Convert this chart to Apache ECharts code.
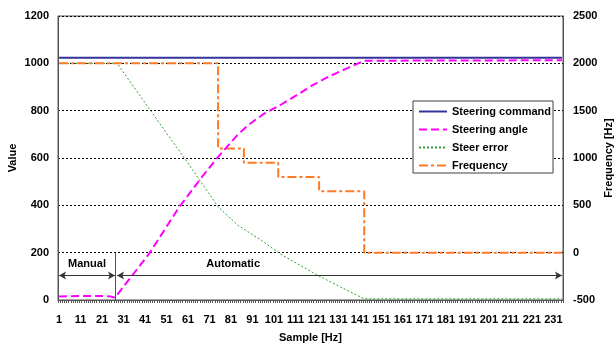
<!DOCTYPE html>
<html>
<head>
<meta charset="utf-8">
<script src="https://cdn.jsdelivr.net/npm/echarts@6/dist/echarts.min.js"></script>
<style>html,body{margin:0;padding:0;background:#fff}#c{width:614px;height:347px}</style>
</head>
<body>
<div id="c"></div>
<script>
// Sample numbers 1..235 (category axis)
const sampleCount = 235;
const categories = Array.from({length: sampleCount}, (_, k) => String(k + 1));

// Steering command (constant)
const cmdSamples = [1, 235];
const cmdValues  = [1024, 1024];

// Steering angle
const angleSamples = [1, 10, 20, 25, 27, 43, 57, 67, 74, 84, 89, 96, 104, 112, 119, 127, 135, 143, 235];
const angleValues  = [15, 17, 17, 15, 10, 197, 394, 514, 594, 697, 739, 785, 824, 868, 908, 946, 979, 1011, 1013];

// Steer error
const errSamples = [1, 28, 44, 60, 75, 84, 95, 104, 121, 132, 143, 235];
const errValues  = [1000, 1000, 795, 591, 394, 317, 253, 194, 106, 55, 5, 5];

// Frequency (right axis), step levels
const freqSamples = [1, 75, 75, 87, 87, 103, 103, 122, 122, 143, 143, 235];
const freqValues  = [2000, 2000, 1100, 1100, 950, 950, 800, 800, 650, 650, 0, 0];

const pairs = (xs, ys) => xs.map((x, k) => [String(x), ys[k]]);

const font = {fontFamily: 'Liberation Sans, Arial, sans-serif', fontWeight: 'bold', fontSize: 11, color: '#000'};
const axisCol = '#555';
const plain = v => String(v);

const chart = echarts.init(document.getElementById('c'), null, {renderer: 'canvas'});
chart.setOption({
  animation: false,
  backgroundColor: '#fff',
  grid: {left: 58, right: 51, top: 16, bottom: 47, containLabel: false, outerBoundsMode: 'none',
         show: true, borderColor: axisCol, borderWidth: 1, backgroundColor: 'transparent'},
  legend: {
    orient: 'vertical', left: 413, top: 101,
    itemWidth: 28, itemHeight: 10, itemGap: 7,
    padding: [5, 2, 2, 5],
    backgroundColor: '#fff', borderColor: '#404040', borderWidth: 1, borderRadius: 0,
    itemStyle: {opacity: 0},
    textStyle: Object.assign({}, font),
    data: ['Steering command', 'Steering angle', 'Steer error', 'Frequency']
  },
  xAxis: {
    type: 'category', data: categories, boundaryGap: true,
    name: 'Sample [Hz]', nameLocation: 'middle', nameGap: 32, nameMoveOverlap: false,
    nameTextStyle: Object.assign({}, font),
    axisLine: {show: true, onZero: false, lineStyle: {color: axisCol, width: 1}},
    axisTick: {show: true, interval: 0, length: 3, lineStyle: {color: axisCol}},
    axisLabel: Object.assign({interval: 9, margin: 14}, font),
    splitLine: {show: false}
  },
  yAxis: [{
    type: 'value', min: 0, max: 1200, interval: 200,
    name: 'Value', nameLocation: 'middle', nameGap: 40, nameMoveOverlap: false,
    nameTextStyle: Object.assign({}, font),
    axisLine: {show: true, lineStyle: {color: axisCol}},
    axisTick: {show: false},
    axisLabel: Object.assign({margin: 9, formatter: plain}, font),
    splitLine: {show: true, lineStyle: {color: '#000', type: [2, 2], width: 1}}
  }, {
    type: 'value', min: -500, max: 2500, interval: 500, position: 'right',
    name: 'Frequency [Hz]', nameLocation: 'middle', nameGap: 40, nameMoveOverlap: false,
    nameTextStyle: Object.assign({}, font),
    axisLine: {show: true, lineStyle: {color: axisCol}},
    axisTick: {show: false},
    axisLabel: Object.assign({margin: 10, formatter: plain}, font),
    splitLine: {show: false}
  }],
  series: [{
    name: 'Steer error', type: 'line', yAxisIndex: 0, symbol: 'none', z: 2,
    data: pairs(errSamples, errValues),
    lineStyle: {color: '#33A033', width: 1, type: [2, 2]}, itemStyle: {color: '#33A033'}
  }, {
    name: 'Frequency', type: 'line', yAxisIndex: 1, symbol: 'none', z: 3,
    data: pairs(freqSamples, freqValues),
    lineStyle: {color: '#FF7A22', width: 2, type: [9, 3, 3, 3]}, itemStyle: {color: '#FF7A22'}
  }, {
    name: 'Steering angle', type: 'line', yAxisIndex: 0, symbol: 'none', z: 4,
    data: pairs(angleSamples, angleValues),
    lineStyle: {color: '#FF00FF', width: 2, type: [8, 4]}, itemStyle: {color: '#FF00FF'}
  }, {
    name: 'Steering command', type: 'line', yAxisIndex: 0, symbol: 'none', z: 5,
    data: pairs(cmdSamples, cmdValues),
    lineStyle: {color: '#333399', width: 2, type: 'solid'}, itemStyle: {color: '#333399'},
    markLine: {
      silent: true, animation: false, precision: 0,
      label: {show: false},
      emphasis: {disabled: true},
      lineStyle: {color: '#333', width: 1, type: 'solid'},
      symbol: ['arrow', 'arrow'], symbolSize: [6, 7],
      data: [
        [{coord: ['1', 103]}, {coord: ['27', 103]}],
        [{coord: ['28', 103]}, {coord: ['235', 103]}],
        [{coord: ['27', 0], symbol: 'none', lineStyle: {color: '#555'}}, {coord: ['27', 200], symbol: 'none'}]
      ]
    },
    markPoint: {
      silent: true, symbol: 'circle', symbolSize: 0,
      label: Object.assign({show: true, position: 'inside'}, font, {fontSize: 11}),
      data: [
        {coord: ['14', 152], value: 0, label: {formatter: 'Manual'}},
        {coord: ['82', 152], value: 0, label: {formatter: 'Automatic'}}
      ]
    }
  }]
});
</script>
</body>
</html>
